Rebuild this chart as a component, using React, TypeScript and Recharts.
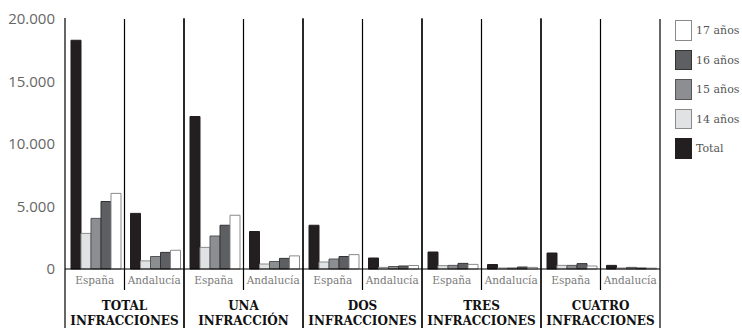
import React from 'react';
import { BarChart, Bar, XAxis, YAxis } from 'recharts';

// values (number of offences)
const groups = ['TOTAL INFRACCIONES', 'UNA INFRACCIÓN', 'DOS INFRACCIONES', 'TRES INFRACCIONES', 'CUATRO INFRACCIONES'];
const regions = ['España', 'Andalucía'];
const total = [18300, 4450, 12200, 3000, 3500, 880, 1360, 360, 1280, 290];
const age14 = [2850, 650, 1730, 400, 560, 130, 270, 80, 290, 80];
const age15 = [4050, 1000, 2640, 600, 800, 200, 290, 80, 290, 130];
const age16 = [5400, 1330, 3500, 850, 1000, 240, 450, 160, 430, 80];
const age17 = [6050, 1500, 4300, 1050, 1150, 280, 370, 130, 240, 70];
const yTicks = [0, 5000, 10000, 15000, 20000];

const data = total.map((t, i) => ({
  id: `${i}`,
  region: regions[i % 2],
  group: groups[Math.floor(i / 2)],
  total: t,
  a14: age14[i],
  a15: age15[i],
  a16: age16[i],
  a17: age17[i],
}));

const SERIES = [
  { key: 'total', name: 'Total', fill: '#231f20', stroke: '#231f20' },
  { key: 'a14', name: '14 años', fill: '#e1e2e3', stroke: '#8a8a8a' },
  { key: 'a15', name: '15 años', fill: '#8d8e91', stroke: '#555555' },
  { key: 'a16', name: '16 años', fill: '#5e5f62', stroke: '#333333' },
  { key: 'a17', name: '17 años', fill: '#ffffff', stroke: '#8a8a8a' },
];

const W = 742;
const H = 328;
const PLOT_TOP = 19;
const PLOT_BOTTOM = 269;
const serif = '"DejaVu Serif", serif';

const fmt = (v: number) => v.toLocaleString('de-DE');

const XTick = (props: any) => {
  const { x, payload, index } = props;
  const half = payload?.offset ?? 29.75;
  const row = data[index] ?? data[0];
  const isSpain = index % 2 === 0;
  const words = row.group.split(' ');
  return (
    <g>
      <text x={x} y={PLOT_BOTTOM + 15} textAnchor="middle" fontFamily={serif} fontSize={10.5} fill="#7a7a7a">
        {row.region}
      </text>
      {isSpain && <line x1={x - half} x2={x - half} y1={PLOT_TOP - 1} y2={H} stroke="#000" strokeWidth={1.2} />}
      <line x1={x + half} x2={x + half} y1={PLOT_TOP} y2={isSpain ? 290 : H} stroke="#000" strokeWidth={1.2} />
      {isSpain && (
        <text x={x + half} textAnchor="middle" fontFamily={serif} fontWeight="bold" fontSize={12} fill="#111">
          <tspan x={x + half} y={310}>{words[0]}</tspan>
          <tspan x={x + half} y={325}>{words[1]}</tspan>
        </text>
      )}
    </g>
  );
};

const LegendBox = () => (
  <div style={{ position: 'absolute', left: 675, top: 20, fontFamily: serif, fontSize: 11, color: '#555' }}>
    {[...SERIES].reverse().map((s) => (
      <div key={s.key} style={{ display: 'flex', alignItems: 'center', height: 29.5 }}>
        <div
          style={{
            width: 15,
            height: 18.5,
            background: s.fill,
            border: `1px solid ${s.stroke}`,
            marginRight: 4,
            alignSelf: 'flex-start',
          }}
        />
        <span style={{ marginTop: -8 }}>{s.name}</span>
      </div>
    ))}
  </div>
);

export default function App() {
  return (
    <div style={{ position: 'relative', width: W, height: H, background: '#fff' }}>
      <style>{'body{margin:0}'}</style>
      <BarChart
        width={W}
        height={H}
        data={data}
        margin={{ top: PLOT_TOP, right: 82, bottom: 0, left: 0 }}
        barCategoryGap={6}
        barGap={0}
      >
        <YAxis
          width={65}
          domain={[0, 20000]}
          ticks={yTicks}
          tickFormatter={fmt}
          axisLine={false}
          tickLine={false}
          tickMargin={4}
          tick={{ fontFamily: '"Open Sans", sans-serif', fontSize: 15, fill: '#666' }}
        />
        <XAxis
          dataKey="id"
          height={H - PLOT_BOTTOM}
          axisLine={{ stroke: '#000', strokeWidth: 1.2 }}
          tickLine={false}
          tickSize={0}
          tickMargin={0}
          interval={0}
          tick={<XTick />}
        />
        {SERIES.map((s) => (
          <Bar
            key={s.key}
            dataKey={s.key}
            name={s.name}
            fill={s.fill}
            stroke={s.stroke}
            strokeWidth={1}
            isAnimationActive={false}
          />
        ))}
      </BarChart>
      <LegendBox />
    </div>
  );
}
